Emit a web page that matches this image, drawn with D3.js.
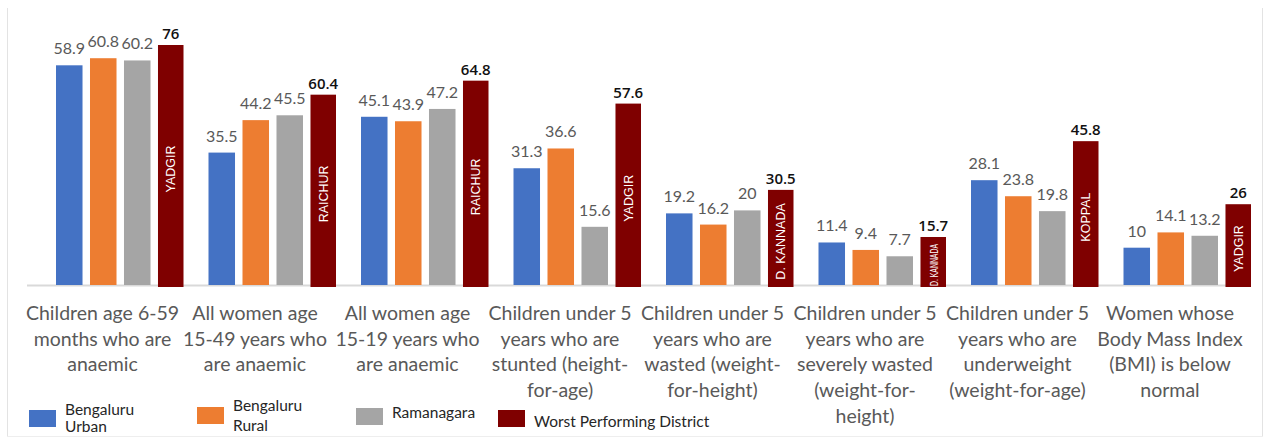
<!DOCTYPE html>
<html><head><meta charset="utf-8">
<script src="https://cdn.jsdelivr.net/npm/d3@7"></script>
<style>
html,body{margin:0;padding:0;background:#fff;}
svg{display:block;}
</style></head>
<body>
<script>
// ---- data ----
const categories = [
  ["Children age 6-59","months who are","anaemic"],
  ["All women age","15-49 years who","are anaemic"],
  ["All women age","15-19 years who","are anaemic"],
  ["Children under 5","years who are","stunted (height-","for-age)"],
  ["Children under 5","years who are","wasted (weight-","for-height)"],
  ["Children under 5","years who are","severely wasted","(weight-for-","height)"],
  ["Children under 5","years who are","underweight","(weight-for-age)"],
  ["Women whose","Body Mass Index","(BMI) is below","normal"]
];
const seriesNames = ["Bengaluru Urban","Bengaluru Rural","Ramanagara","Worst Performing District"];
const bengaluruUrban = [58.9, 35.5, 45.1, 31.3, 19.2, 11.4, 28.1, 10];
const bengaluruRural = [60.8, 44.2, 43.9, 36.6, 16.2, 9.4, 23.8, 14.1];
const ramanagara     = [60.2, 45.5, 47.2, 15.6, 20, 7.7, 19.8, 13.2];
const worstValues    = [76, 60.4, 64.8, 57.6, 30.5, 15.7, 45.8, 26];
const worstDistricts = ["YADGIR","RAICHUR","RAICHUR","YADGIR","D. KANNADA","D. KANNADA","KOPPAL","YADGIR"];
const legendLines = [["Bengaluru","Urban"],["Bengaluru","Rural"],["Ramanagara"],["Worst Performing District"]];

// ---- styles ----
const colors = ["#4472C4","#ED7D31","#A5A5A5","#7F0000"];
const FONT = "Lato, 'Open Sans', sans-serif";

const W = 1266, H = 438;
const svg = d3.select("body").append("svg").attr("width", W).attr("height", H);

// frame lines
svg.append("line").attr("x1",7.5).attr("x2",7.5).attr("y1",8).attr("y2",437).attr("stroke","#e3e3e3");
svg.append("line").attr("x1",1262.5).attr("x2",1262.5).attr("y1",8).attr("y2",437).attr("stroke","#e3e3e3");
svg.append("line").attr("x1",7).attr("x2",1263).attr("y1",436.5).attr("y2",436.5).attr("stroke","#eeeeee");

const idx = d3.range(categories.length);
const x0 = d3.scaleBand().domain(idx).range([26.25, 26.25 + 152.5*8]).paddingInner(0).paddingOuter(0);
const x1 = d3.scaleBand().domain(seriesNames).range([29.75, 29.75 + 128.5]).paddingInner(0.22).paddingOuter(0);
const baseY = 285;
const yDist = d3.scaleLinear().domain([0, 60]).range([baseY, baseY - 60*3.73]);
const yWorst = d3.scaleLinear().domain([0, 76]).range([287, 45]);

const districtSeries = [bengaluruUrban, bengaluruRural, ramanagara];

// baseline
svg.append("line").attr("x1", 27).attr("x2", x0.range()[1]).attr("y1", baseY+0.5).attr("y2", baseY+0.5)
  .attr("stroke","#d9d9d9").attr("stroke-width",2);

// district bars
districtSeries.forEach((vals, s) => {
  const g = svg.append("g");
  g.selectAll("rect").data(vals).join("rect")
    .attr("x", (d,i) => x0(i) + x1(seriesNames[s]))
    .attr("y", d => yDist(d))
    .attr("width", x1.bandwidth())
    .attr("height", d => yDist(0) - yDist(d))
    .attr("fill", colors[s]);
  g.selectAll("text").data(vals).join("text")
    .attr("x", (d,i) => x0(i) + x1(seriesNames[s]) + x1.bandwidth()/2)
    .attr("y", d => yDist(d) - 11)
    .attr("text-anchor","middle")
    .attr("font-family", FONT).attr("font-size", 16)
    .attr("fill","#595959")
    .text(d => d);
});

// worst district bars
const wg = svg.append("g");
const wW = x1.bandwidth() - 1;
wg.selectAll("rect").data(worstValues).join("rect")
  .attr("x", (d,i) => x0(i) + x1(seriesNames[3]))
  .attr("y", d => yWorst(d))
  .attr("width", wW)
  .attr("height", d => yWorst(0) - yWorst(d))
  .attr("fill", colors[3]);
wg.selectAll("text.val").data(worstValues).join("text").attr("class","val")
  .attr("x", (d,i) => x0(i) + x1(seriesNames[3]) + wW/2)
  .attr("y", d => yWorst(d) - 6)
  .attr("text-anchor","middle")
  .attr("font-family", "'Open Sans', Lato, sans-serif").attr("font-size", 15).attr("font-weight", 600)
  .attr("fill","#111")
  .text(d => d);
wg.selectAll("text.name").data(worstValues).join("text").attr("class","name")
  .attr("transform", (d,i) => {
    const cx = x0(i) + x1(seriesNames[3]) + wW/2;
    const cy = (yWorst(d) + yWorst(0))/2 + 3;
    return `translate(${cx + 4.5},${cy}) rotate(-90)`;
  })
  .attr("text-anchor","middle")
  .attr("font-family", "'Liberation Sans', Arial, sans-serif").attr("font-size", 12.5)
  .attr("fill","#ffffff")
  .text((d,i) => worstDistricts[i])
  .each(function(d){
    const avail = yWorst(0) - yWorst(d) - 8;
    const len = this.getComputedTextLength();
    if (len > avail) d3.select(this).attr("textLength", avail).attr("lengthAdjust","spacingAndGlyphs").attr("font-size", 11);
  });

// category labels
const cg = svg.append("g");
categories.forEach((lines, i) => {
  const t = cg.append("text")
    .attr("x", x0(i) + x0.bandwidth()/2)
    .attr("y", 320)
    .attr("text-anchor","middle")
    .attr("font-family", FONT).attr("font-size", 19.5)
    .attr("fill","#595959");
  lines.forEach((ln, k) => {
    t.append("tspan").attr("x", x0(i) + x0.bandwidth()/2).attr("y", 320 + k*25.7).text(ln);
  });
});

// legend
const legendSwatchX = [29, 197, 356, 498];
const legendSwatchY = [410, 407, 408, 410];
const legendTextY = [[415, 431.5],[410.5, 430.5],[418],[426.5]];
const lg = svg.append("g");
seriesNames.forEach((name, s) => {
  lg.append("rect").attr("x", legendSwatchX[s]).attr("y", legendSwatchY[s])
    .attr("width", 27).attr("height", 17).attr("fill", colors[s]);
  const t = lg.append("text").attr("font-family", FONT).attr("font-size", 15.5).attr("fill","#262626");
  legendLines[s].forEach((ln, k) => {
    t.append("tspan").attr("x", legendSwatchX[s] + 36).attr("y", legendTextY[s][k]).text(ln);
  });
});
</script>
</body></html>
